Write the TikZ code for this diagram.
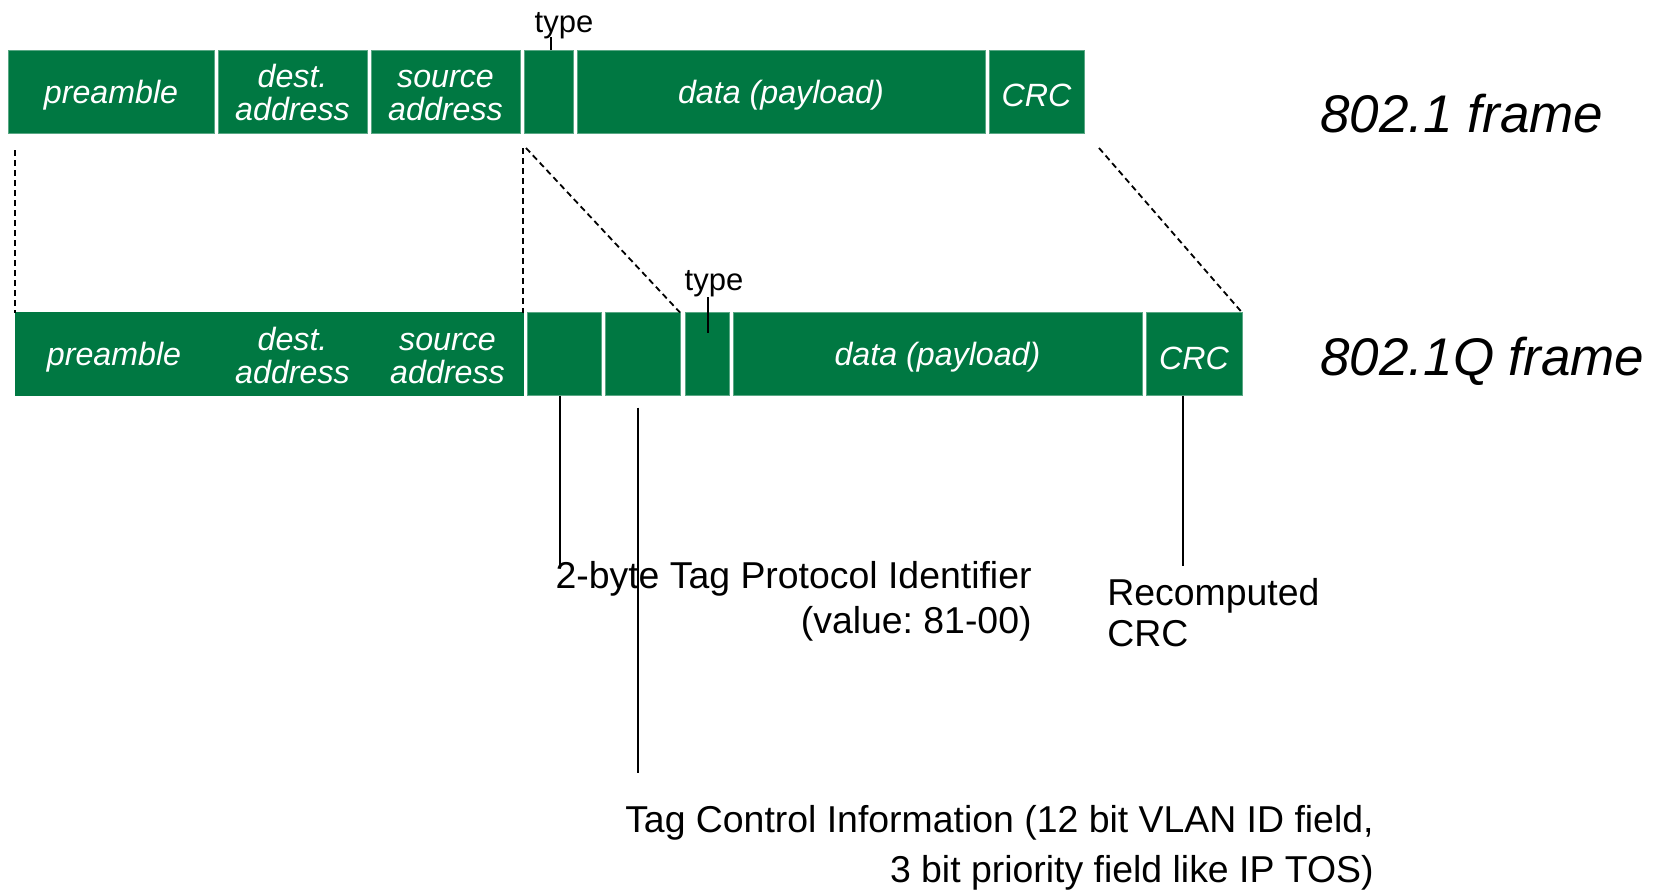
\documentclass[tikz,border=0pt]{standalone}
\usepackage{fontspec}
\setmainfont{Liberation Sans}
\usepackage{xcolor}
\usetikzlibrary{positioning,calc}

\definecolor{frmgreen}{RGB}{0,120,66}
\frenchspacing

\begin{document}
\begin{tikzpicture}[
    x=0.5pt, y=-0.5pt,
    node distance=2pt,
    field/.style={rectangle, draw=frmgreen!65!white, line width=0.5pt, fill=frmgreen, text=white, font=\fontsize{16.1}{16.5}\selectfont\itshape, minimum height=41.5pt, inner sep=0pt, outer sep=0pt, align=center, text height=15.6pt, text depth=4pt},
    field2/.style={field, text height=34pt, text depth=4.95pt},
    lbl/.style={inner sep=0pt, font=\fontsize{15.5}{18}\selectfont},
    title/.style={inner sep=0pt, font=\fontsize{26.5}{30}\selectfont\itshape},
    note/.style={inner sep=0pt, font=\fontsize{18.7}{22.5}\selectfont},
    guide/.style={dash pattern=on 3pt off 2pt, line width=0.9pt},
    tick/.style={line width=0.9pt}
]
    \useasboundingbox (0,0) rectangle (1660,889);

    % 802.1 frame
    \node[field, minimum width=103pt, anchor=west] (pre1) at (8,91.5) {preamble};
    \node[field2, minimum width=74.5pt, right=of pre1] (dst1) {dest.\\address};
    \node[field2, minimum width=74.5pt, right=of dst1] (src1) {source\\address};
    \node[field, minimum width=24.5pt, right=of src1] (typ1) {};
    \node[field, minimum width=204pt, right=of typ1] (dat1) {data (payload)};
    \node[field, minimum width=47.5pt, text height=18.6pt, right=of dat1] (crc1) {CRC};

    % 802.1Q frame
    \node[field, draw=frmgreen, minimum width=99pt, anchor=west] (pre2) at (15,354) {preamble};
    \node[field2, draw=frmgreen, minimum width=79.5pt, right=0pt of pre2] (dst2) {dest.\\address};
    \node[field2, draw=frmgreen, minimum width=75.5pt, right=0pt of dst2] (src2) {source\\address};
    \node[field, minimum width=37pt, right=of src2] (tpid) {};
    \node[field, minimum width=37.5pt, right=of tpid] (tci) {};
    \node[field, minimum width=22pt, right=2.5pt of tci] (typ2) {};
    \node[field, minimum width=204.5pt, right=of typ2] (dat2) {data (payload)};
    \node[field, minimum width=48pt, text height=19.2pt, right=of dat2] (crc2) {CRC};

    % Frame names and type labels
    \node[title, anchor=base west] (name1) at (1320,132) {802.1 frame};
    \node[title, anchor=base west] (name2) at (1320,375) {802.1Q frame};
    \node[lbl, anchor=base] (typlbl1) at (564,32) {type};
    \node[lbl, anchor=base] (typlbl2) at (714,290) {type};

    % Notes
    \node[note, align=right, anchor=base east] (tpidtxt) at (1032,633) {2-byte Tag Protocol Identifier\\(value: 81-00)};
    \node[note, font=\fontsize{18.7}{20.5}\selectfont, align=left, anchor=base west] (crctxt) at (1107,646) {Recomputed\\CRC};
    \node[note, font=\fontsize{18.7}{25}\selectfont, align=right, anchor=base east] (tcitxt) at (1374,882) {Tag Control Information (12 bit VLAN ID field,\\3 bit priority field like IP TOS)};

    % Dashed guides
    \coordinate (g1) at (15,150);
    \coordinate (g2) at (523,148);
    \coordinate (g3) at (526,148);
    \coordinate (g4) at (1099,148);
    \draw[guide] (g1) -- (pre2.north west);
    \draw[guide] (g2) -- (src2.north east);
    \draw[guide] (g3) -- (tci.north east);
    \draw[guide] (g4) -- (crc2.north east);

    % Ticks and leaders
    \coordinate (k1) at (551,37);
    \coordinate (k2) at (708,297);
    \coordinate (k3) at (708,333);
    \draw[tick] (k1) -- (k1 |- typ1.north);
    \draw[tick] (k2) -- (k3);
    \coordinate (e1) at (560,566);
    \coordinate (e2) at (638,773);
    \coordinate (e3) at (1183,566);
    \draw[tick] (e1 |- tpid.south) -- (e1);
    \draw[tick] ($(e2 |- tci.south)+(0,12)$) -- (e2);
    \draw[tick] (e3 |- crc2.south) -- (e3);
\end{tikzpicture}
\end{document}
